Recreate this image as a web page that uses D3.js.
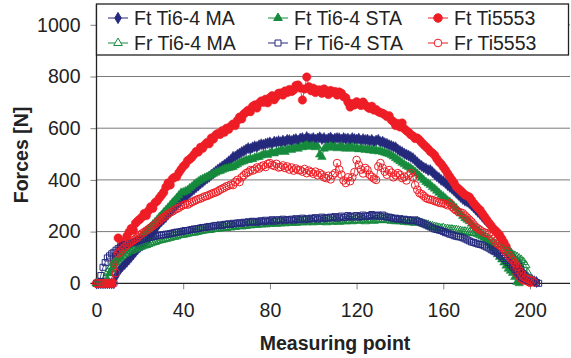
<!DOCTYPE html>
<html>
<head>
<meta charset="utf-8">
<script src="https://cdn.jsdelivr.net/npm/d3@7"></script>
<style>
    body { margin: 0; background: #fff; }
    svg { display: block; font-family: "Liberation Sans", Arial, sans-serif; }
</style>
</head>
<body>
<svg id="chart" width="571" height="358"></svg>
<script>
// Forces per measuring point (index = measuring point)
const ftTi64MA = [
    0,0,0,0,0,0,0,0,0,28,
    45,56,66,74,83,92,102,112,122,132,
    140,146,152,158,172,185,196,208,220,232,
    240,248,256,266,276,286,294,302,312,320,
    328,336,342,350,357,364,372,378,386,392,
    400,406,412,420,426,433,440,446,452,458,
    464,472,478,489,490,497,502,508,512,518,
    523,520,526,530,528,534,538,536,540,542,
    545,540,548,546,550,546,552,548,555,554,
    550,556,558,552,560,562,556,566,560,558,
    562,556,560,565,558,562,555,560,564,556,
    560,562,561,556,562,558,560,555,562,558,
    556,560,552,558,554,556,550,555,548,552,
    555,546,548,542,540,535,532,528,526,518,
    512,508,502,498,494,489,484,476,468,460,
    454,448,444,438,438,430,422,414,408,400,
    395,388,380,373,366,358,350,342,334,326,
    320,316,310,302,294,285,276,268,258,248,
    240,232,222,212,202,190,178,164,152,140,
    128,115,104,92,82,78,62,40,30,22,
    16,12,8,5
];
const ftTi64STA = [
    0,0,0,0,0,12,38,52,66,80,
    92,104,116,124,134,142,150,158,165,170,
    176,185,194,202,210,218,228,236,246,256,
    264,274,283,292,302,312,320,330,340,350,
    352,356,360,368,374,382,388,394,400,404,
    408,411,416,420,424,428,432,434,438,442,
    444,446,448,450,456,460,466,470,472,477,
    477,482,480,486,488,489,494,498,500,496,
    504,506,502,508,510,512,515,508,518,520,
    516,522,524,520,528,526,530,535,528,530,
    532,526,530,498,489,520,528,524,530,526,
    528,522,527,530,524,520,528,522,526,520,
    524,518,522,520,516,520,514,518,512,516,
    510,512,508,505,502,500,495,490,484,478,
    472,466,460,454,450,445,438,432,424,416,
    408,400,392,386,380,372,366,358,350,342,
    336,328,320,315,306,298,290,280,270,260,
    252,246,240,230,222,212,204,196,186,176,
    168,158,146,134,122,112,102,92,80,68,
    56,48,40,24,5,0
];
const ftTi5553 = [
    0,0,0,0,0,0,0,0,78,102,
    175,128,150,163,182,198,212,205,232,241,
    248,256,270,262,281,296,290,312,318,330,
    341,352,372,388,380,404,410,412,428,440,
    452,460,474,480,488,498,510,508,526,522,
    536,545,540,562,558,574,580,576,590,584,
    600,596,608,616,610,630,643,636,655,662,
    670,664,684,690,678,697,705,700,712,698,
    718,726,710,722,735,736,728,744,738,750,
    742,748,765,767,755,709,752,798,760,745,
    755,738,748,748,735,752,744,730,746,738,
    742,728,740,735,722,718,700,682,695,690,
    702,696,688,701,690,682,676,685,670,672,
    664,660,658,652,645,648,632,625,610,618,
    605,620,598,590,584,575,570,560,562,554,
    545,536,528,520,510,504,495,482,470,462,
    450,438,425,412,400,388,373,366,358,350,
    342,338,334,322,310,300,290,283,270,258,
    246,234,224,212,204,196,186,172,158,142,
    124,104,85,62,40,28,18,12,13,8,
    3
];
const frTi64MA = [
    0,0,0,0,20,40,55,68,78,88,
    96,102,108,114,118,124,126,130,134,137,
    140,143,146,148,152,155,158,160,164,166,
    168,170,172,174,176,180,180,182,186,188,
    188,190,192,194,196,196,198,200,202,204,
    205,206,206,208,210,210,212,212,214,216,
    214,218,216,220,218,222,222,220,224,222,
    226,224,226,228,226,230,228,230,228,232,
    230,232,234,230,234,232,236,232,236,235,
    234,238,234,236,238,236,240,236,238,240,
    236,240,238,242,238,240,236,242,240,238,
    242,240,238,244,240,240,244,242,240,244,
    246,242,244,246,240,244,248,244,242,246,
    244,248,245,246,244,246,242,244,240,242,
    240,242,238,240,236,238,236,234,240,236,
    232,230,228,226,222,220,218,216,214,212,
    214,210,210,208,208,206,206,204,202,200,
    200,198,196,196,194,194,190,186,182,178,
    175,170,164,158,152,148,142,136,129,124,
    122,116,110,106,102,96,90,82,70,40,
    10
];
const frTi64STA = [
    0,0,30,62,80,98,106,114,120,128,
    134,140,144,148,150,152,156,158,162,165,
    167,170,172,174,176,178,180,182,184,186,
    186,188,190,190,192,194,196,198,198,200,
    202,204,204,206,208,210,210,212,214,216,
    216,218,220,218,222,224,222,226,224,228,
    228,230,228,232,230,233,234,232,236,234,
    238,236,240,238,236,240,242,238,244,240,
    242,246,240,244,246,242,248,244,246,245,
    248,244,250,246,248,252,246,250,248,252,
    250,254,248,252,256,250,254,252,256,254,
    258,252,256,260,254,256,262,258,256,260,
    262,256,258,264,260,258,262,266,260,262,
    264,258,264,260,256,256,254,250,252,248,
    250,246,248,244,246,242,244,245,240,238,
    234,230,226,222,218,214,210,208,206,204,
    200,196,194,190,188,184,182,180,179,176,
    172,168,164,160,158,155,152,150,148,144,
    140,136,130,126,122,117,110,104,96,88,
    80,72,63,54,44,36,25,20,16,12,
    10,8,6,3,0
];
const frTi5553 = [
    0,0,0,0,0,0,0,0,0,40,
    116,122,132,140,148,155,160,166,172,178,
    186,193,198,204,210,216,222,228,236,242,
    250,256,262,268,274,278,284,288,292,298,
    302,306,304,309,314,318,322,326,328,332,
    336,338,342,346,349,352,356,362,366,370,
    375,378,382,380,392,400,392,410,418,426,
    430,438,436,440,448,444,452,456,450,462,
    465,458,454,462,448,450,456,446,452,440,
    448,436,444,438,438,432,442,426,436,430,
    424,432,418,426,420,410,407,416,402,418,
    426,465,440,420,398,388,410,395,410,430,
    477,458,440,425,446,438,420,412,405,400,
    452,465,446,432,420,438,428,410,418,426,
    420,407,412,398,418,426,410,380,362,349,
    345,338,330,326,324,322,318,316,312,310,
    310,306,302,310,296,288,282,276,274,271,
    262,254,246,238,228,218,212,206,200,196,
    194,190,182,172,162,152,146,140,130,120,
    108,98,90,78,64,50,38,25,20,16,
    13,10,3
];

const xTicks = [0, 40, 80, 120, 160, 200];
const yTicks = [0, 200, 400, 600, 800, 1000];

const navy = "#24297c", green = "#178a3d", red = "#ee1d25";
const fontSize = "19.5px";

const series = [
    { name: "Ft Ti6-4 MA",  values: ftTi64MA,  color: navy,  symbol: d3.symbolDiamond,  size: 36, filled: true },
    { name: "Ft Ti6-4 STA", values: ftTi64STA, color: green, symbol: d3.symbolTriangle, size: 32, filled: true },
    { name: "Ft Ti5553",    values: ftTi5553,  color: red,   symbol: d3.symbolCircle,   size: 56, filled: true },
    { name: "Fr Ti6-4 MA",  values: frTi64MA,  color: green, symbol: d3.symbolTriangle, size: 32, filled: false },
    { name: "Fr Ti6-4 STA", values: frTi64STA, color: navy,  symbol: d3.symbolSquare,   size: 36, filled: false },
    { name: "Fr Ti5553",    values: frTi5553,  color: red,   symbol: d3.symbolCircle,   size: 46, filled: false }
];

const svg = d3.select("#chart");
const plot = { left: 96.5, right: 570, top: 24.8, bottom: 283.3 };

const x = d3.scaleLinear().domain([0, 200]).range([plot.left, 530]);
const y = d3.scaleLinear().domain([0, 1000]).range([plot.bottom, plot.top]);

// gridlines
svg.append("g")
    .selectAll("line")
    .data(yTicks.filter(d => d > 0))
    .join("line")
    .attr("x1", plot.left).attr("x2", plot.right)
    .attr("y1", d => y(d)).attr("y2", d => y(d))
    .style("stroke", "#7a7a7a")
    .style("stroke-width", 1);

// axes
const yAxis = svg.append("g")
    .attr("transform", `translate(${plot.left},0)`)
    .call(d3.axisLeft(y).tickValues(yTicks).tickFormat(d3.format("d")).tickSize(6).tickPadding(10));
const xAxis = svg.append("g")
    .attr("transform", `translate(0,${plot.bottom})`)
    .call(d3.axisBottom(x).tickValues(xTicks).tickFormat(d3.format("d")).tickSize(6).tickPadding(14));

[yAxis, xAxis].forEach(ax => {
    ax.select(".domain").remove();
    ax.selectAll(".tick line").style("stroke", "#808080");
    ax.selectAll(".tick text")
        .style("font-size", fontSize)
        .style("fill", "#222")
        .style("font-family", "'Liberation Sans', Arial, sans-serif");
});

svg.append("line")
    .attr("x1", plot.left).attr("x2", plot.left)
    .attr("y1", 4).attr("y2", plot.bottom)
    .style("stroke", "#222").style("stroke-width", 1.3);
svg.append("line")
    .attr("x1", plot.left - 6).attr("x2", plot.right)
    .attr("y1", plot.bottom).attr("y2", plot.bottom)
    .style("stroke", "#222").style("stroke-width", 1.3);

// series: thin line + markers
const line = d3.line().x(d => x(d[0])).y(d => y(d[1]));

series.forEach(s => {
    const pts = s.values.map((v, i) => [i, v]);
    const g = svg.append("g").attr("class", "series");
    g.append("path")
        .datum(pts)
        .attr("d", line)
        .style("fill", "none")
        .style("stroke", s.color)
        .style("stroke-width", 0.8);
    g.selectAll("path.mark")
        .data(pts)
        .join("path")
        .attr("class", "mark")
        .attr("transform", d => `translate(${x(d[0])},${y(d[1])})`)
        .attr("d", d3.symbol(s.symbol, s.size))
        .style("fill", s.filled ? s.color : "none")
        .style("stroke", s.color)
        .style("stroke-width", s.filled ? 0.5 : 1);
});

// legend
const legend = svg.append("g");
legend.append("rect")
    .attr("x", plot.left).attr("y", 4)
    .attr("width", 472).attr("height", 51)
    .style("fill", "#fff")
    .style("stroke", "#222")
    .style("stroke-width", 1.3);

const colX = [108, 268, 428];
const rowY = [18, 43];

series.forEach((s, i) => {
    const lx = colX[i % 3], ly = rowY[Math.floor(i / 3)];
    const item = legend.append("g").attr("transform", `translate(${lx},${ly})`);
    item.append("line")
        .attr("x1", 0).attr("x2", 20)
        .style("stroke", s.color).style("stroke-width", 1);
    item.append("path")
        .attr("transform", "translate(10,0)")
        .attr("d", d3.symbol(s.symbol, s.size))
        .style("fill", s.filled ? s.color : "#fff")
        .style("stroke", s.color)
        .style("stroke-width", 1);
    item.append("text")
        .attr("x", 26)
        .attr("y", 6.8)
        .style("font-size", fontSize)
        .style("fill", "#222")
        .text(s.name);
});

// axis titles
svg.append("text")
    .attr("x", 335)
    .attr("y", 350)
    .attr("text-anchor", "middle")
    .style("font-size", fontSize)
    .style("font-weight", "bold")
    .style("fill", "#222")
    .text("Measuring point");

svg.append("text")
    .attr("transform", "translate(28,155) rotate(-90)")
    .attr("text-anchor", "middle")
    .style("font-size", fontSize)
    .style("font-weight", "bold")
    .style("fill", "#222")
    .text("Forces [N]");
</script>
</body>
</html>
